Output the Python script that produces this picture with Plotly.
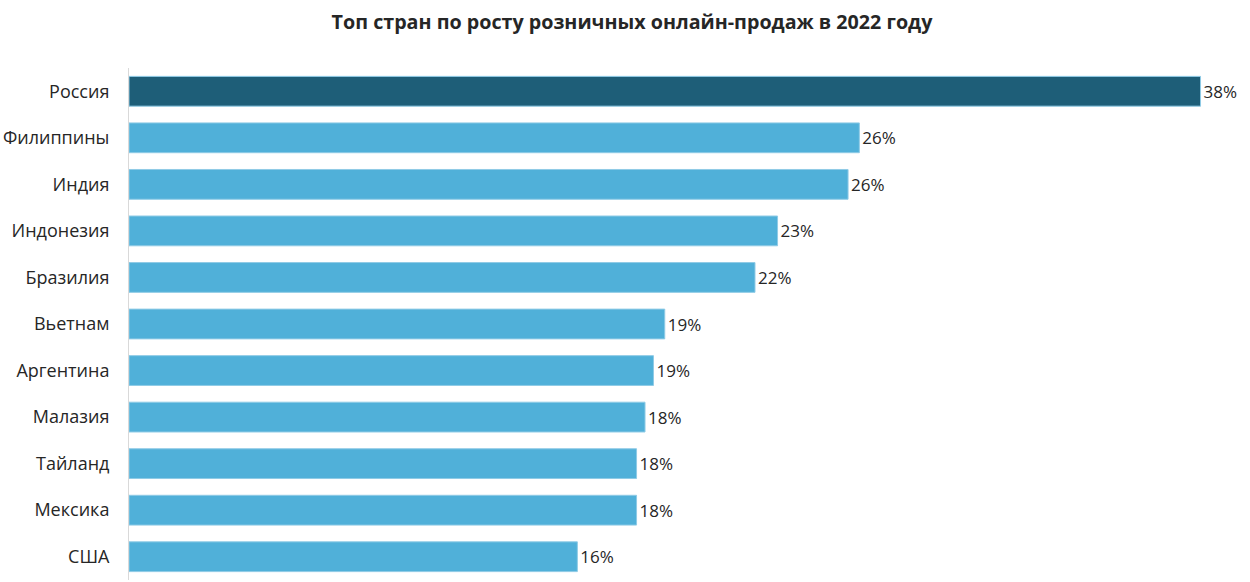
import plotly.graph_objects as go

countries = ["Россия", "Филиппины", "Индия", "Индонезия", "Бразилия", "Вьетнам",
             "Аргентина", "Малазия", "Тайланд", "Мексика", "США"]
values = [38.0, 25.9, 25.5, 23.0, 22.2, 19.0, 18.6, 18.3, 18.0, 18.0, 15.9]
labels = ["38%", "26%", "26%", "23%", "22%", "19%", "19%", "18%", "18%", "18%", "16%"]

colors = ["#1E5E78"] + ["#50B0D9"] * (len(countries) - 1)
FONT = "Open Sans, sans-serif"

fig = go.Figure(go.Bar(
    y=countries, x=values, orientation="h",
    marker=dict(color=colors, line=dict(color="#8FCBE6", width=1)),
    text=labels, textposition="outside", cliponaxis=False,
    textfont=dict(family=FONT, size=17, color="#262626"),
))

fig.update_layout(
    width=1250, height=582,
    margin=dict(l=129, r=10, t=68, b=2, autoexpand=False),
    paper_bgcolor="white", plot_bgcolor="white",
    title=dict(text="<b>Топ стран по росту розничных онлайн-продаж в 2022 году</b>",
               x=0.5056, xanchor="center", y=0.9622, yanchor="middle",
               font=dict(family=FONT, size=19.7, color="#262626")),
    bargap=0.36,
    showlegend=False,
    xaxis=dict(range=[0, 39.4], visible=False, automargin=False),
    yaxis=dict(autorange="reversed", showline=True, linecolor="#D9D9D9", linewidth=1,
               showgrid=False, ticks="", ticklabelstandoff=15, automargin=False,
               tickfont=dict(family=FONT, size=18, color="#262626")),
)

fig.write_html("out.html", config={"displayModeBar": False},
               post_script="document.body.style.margin='0';document.body.style.overflow='hidden';")
